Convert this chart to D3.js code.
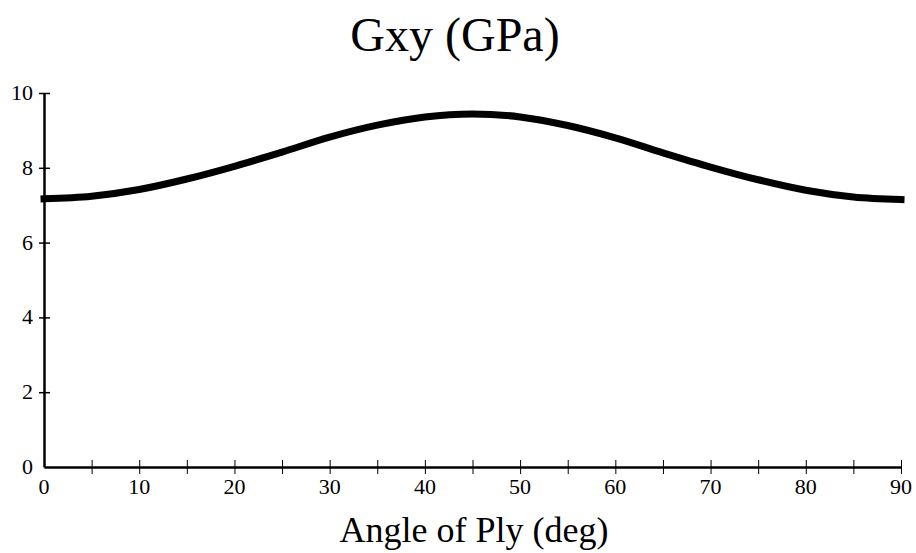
<!DOCTYPE html>
<html>
<head>
<meta charset="utf-8">
<script src="https://cdn.jsdelivr.net/npm/d3@7"></script>
<style>
  body { margin: 0; background: #fff; }
</style>
</head>
<body>
<div class="container"></div>
<script>
var angles = [0, 5, 10, 15, 20, 25, 30, 35, 40, 45, 50, 55, 60, 65, 70, 75, 80, 85, 90];
var gxy = [7.17, 7.24, 7.42, 7.70, 8.04, 8.42, 8.82, 9.14, 9.36, 9.44, 9.36, 9.13, 8.80, 8.40, 8.02, 7.68, 7.40, 7.22, 7.15];
var xTickLabels = [0, 10, 20, 30, 40, 50, 60, 70, 80, 90];
var xTicks = d3.range(0, 91, 5);
var yTickLabels = [0, 2, 4, 6, 8, 10];

var SERIF = "'Liberation Serif', 'Times New Roman', 'DejaVu Serif', serif";

document.addEventListener('DOMContentLoaded', function () {
    var svg = d3.select(".container")
        .append("svg")
        .attr("width", 916)
        .attr("height", 553);

    var x = d3.scaleLinear().domain([0, 90]).range([44, 901]);
    var y = d3.scaleLinear().domain([0, 10]).range([467, 93]);

    // title
    svg.append("text")
        .attr("x", 455)
        .attr("y", 51)
        .attr("text-anchor", "middle")
        .attr("font-family", SERIF)
        .attr("font-size", 48)
        .text("Gxy (GPa)");

    svg.append("text")
        .attr("x", 474)
        .attr("y", 542)
        .attr("text-anchor", "middle")
        .attr("font-family", SERIF)
        .attr("font-size", 36)
        .text("Angle of Ply (deg)");

    // axes
    var xAxis = svg.append("g")
        .attr("transform", "translate(0," + y(0) + ")")
        .call(d3.axisBottom(x).tickValues(xTicks).tickSize(0).tickFormat(""));
    xAxis.select(".domain").attr("stroke-width", 2.5);
    xAxis.selectAll(".tick line").attr("y1", -7).attr("y2", 7).attr("stroke-width", 1);
    xAxis.selectAll(".tick").filter(function (d) { return d === 0; }).remove();

    svg.append("g").selectAll("text")
        .data(xTickLabels)
        .enter().append("text")
        .attr("x", function (d) { return x(d); })
        .attr("y", 494)
        .attr("text-anchor", "middle")
        .attr("font-family", SERIF)
        .attr("font-size", 22)
        .text(function (d) { return d; });

    var yAxis = svg.append("g")
        .attr("transform", "translate(" + x(0) + ",0)")
        .call(d3.axisLeft(y).tickValues(yTickLabels).tickSize(0).tickFormat(""));
    yAxis.select(".domain").attr("stroke-width", 2.5);
    yAxis.selectAll(".tick line").attr("x1", -5).attr("x2", 6).attr("stroke-width", 1.5);
    yAxis.selectAll(".tick").filter(function (d) { return d === 0; }).remove();

    svg.append("g").selectAll("text")
        .data(yTickLabels)
        .enter().append("text")
        .attr("x", 33)
        .attr("y", function (d) { return y(d) + 7; })
        .attr("text-anchor", "end")
        .attr("font-family", SERIF)
        .attr("font-size", 22)
        .text(function (d) { return d; });

    // curve
    var line = d3.line()
        .x(function (d, i) { return x(angles[i]); })
        .y(function (d) { return y(d); })
        .curve(d3.curveMonotoneX);

    svg.append("path")
        .datum(gxy)
        .attr("fill", "none")
        .attr("stroke", "#000")
        .attr("stroke-width", 7)
        .attr("stroke-linecap", "square")
        .attr("d", line);
});
</script>
</body>
</html>
